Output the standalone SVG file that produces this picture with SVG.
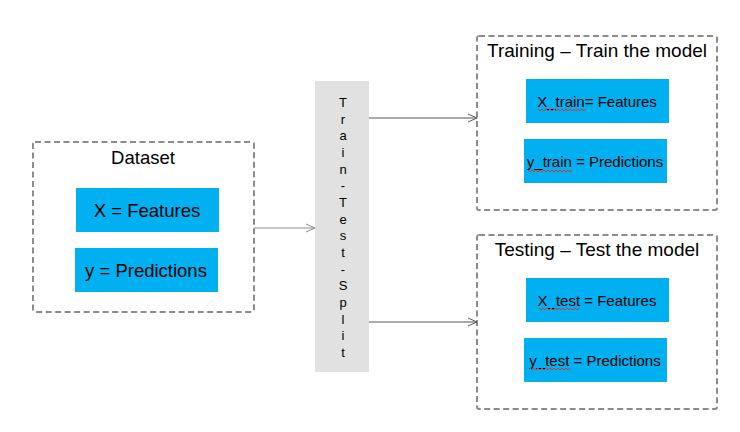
<svg xmlns="http://www.w3.org/2000/svg" width="740" height="432" viewBox="0 0 740 432">
<defs>
<style>
.group{fill:#fff;stroke:#8c8c8c;stroke-width:2;stroke-dasharray:6 3.5}
.blue{fill:#00b0f0}
.t{font-family:"Liberation Sans",Arial,sans-serif;fill:#000;text-anchor:middle}
.title{font-size:19px}
.big{font-size:18.5px}
.small{font-size:15px}
.split{font-size:13px}
.conn{fill:none;stroke:#595959;stroke-width:1}
.sq{fill:none;stroke:#e03030;stroke-width:1}
</style>
<marker id="arr" markerWidth="12" markerHeight="12" refX="10" refY="5" orient="auto" markerUnits="userSpaceOnUse">
<path d="M1,1 L10,5 L1,9" fill="none" stroke="#595959" stroke-width="1"/>
</marker>
<marker id="arrg" markerWidth="12" markerHeight="12" refX="10" refY="5" orient="auto" markerUnits="userSpaceOnUse">
<path d="M1,1 L10,5 L1,9" fill="none" stroke="#8c8c8c" stroke-width="1"/>
</marker>
</defs>
<rect width="740" height="432" fill="#fff"/>

<g id="dataset">
<rect class="group" x="33" y="142" width="221" height="170" rx="2"/>
<text class="t big" x="143" y="164">Dataset</text>
<rect class="blue" x="76" y="188" width="143" height="44"/>
<text class="t big" x="147" y="217">X = Features</text>
<rect class="blue" x="75" y="248" width="143" height="44"/>
<text class="t big" x="146" y="277">y = Predictions</text>
</g>

<g id="split">
<rect x="315" y="81" width="54" height="291" fill="#e1e1e1"/>
<g class="t split">
<text x="343" y="107">T</text>
<text x="343" y="123.7">r</text>
<text x="343" y="140.3">a</text>
<text x="343" y="157">i</text>
<text x="343" y="173.7">n</text>
<text x="343" y="190.3">-</text>
<text x="343" y="207">T</text>
<text x="343" y="223.7">e</text>
<text x="343" y="240.3">s</text>
<text x="343" y="257">t</text>
<text x="343" y="273.7">-</text>
<text x="343" y="290.3">S</text>
<text x="343" y="307">p</text>
<text x="343" y="323.7">l</text>
<text x="343" y="340.3">i</text>
<text x="343" y="357">t</text>
</g>
</g>

<g id="training">
<rect class="group" x="477" y="36" width="240" height="174" rx="2"/>
<text class="t title" x="597" y="57">Training – Train the model</text>
<rect class="blue" x="526" y="79" width="143" height="44"/>
<text class="t small" x="597" y="107">X_train= Features</text>
<path class="sq" d="M538,109 l2,2 l2,-2 l2,2 l2,-2 l2,2 l2,-2 l2,2 l2,-2 l2,2 l2,-2 l2,2 l2,-2 l2,2 l2,-2 l2,2 l2,-2 l2,2 l2,-2 l2,2 l2,-2 l2,2 l2,-2 l2,2 l2,-2"/>
<rect class="blue" x="524" y="139" width="143" height="44"/>
<text class="t small" x="595" y="167">y_train = Predictions</text>
<path class="sq" d="M528,170 l2,2 l2,-2 l2,2 l2,-2 l2,2 l2,-2 l2,2 l2,-2 l2,2 l2,-2 l2,2 l2,-2 l2,2 l2,-2 l2,2 l2,-2 l2,2 l2,-2 l2,2 l2,-2 l2,2 l2,-2"/>
</g>

<g id="testing">
<rect class="group" x="477" y="235" width="240" height="174" rx="2"/>
<text class="t title" x="597" y="256">Testing – Test the model</text>
<rect class="blue" x="526" y="278" width="143" height="44"/>
<text class="t small" x="597" y="306">X_test = Features</text>
<path class="sq" d="M539,308 l2,2 l2,-2 l2,2 l2,-2 l2,2 l2,-2 l2,2 l2,-2 l2,2 l2,-2 l2,2 l2,-2 l2,2 l2,-2 l2,2 l2,-2 l2,2 l2,-2 l2,2 l2,-2"/>
<rect class="blue" x="524" y="338" width="143" height="44"/>
<text class="t small" x="595" y="366">y_test = Predictions</text>
<path class="sq" d="M530,368 l2,2 l2,-2 l2,2 l2,-2 l2,2 l2,-2 l2,2 l2,-2 l2,2 l2,-2 l2,2 l2,-2 l2,2 l2,-2 l2,2 l2,-2 l2,2 l2,-2 l2,2 l2,-2"/>
</g>

<g id="connectors">
<path d="M254,228 H315" fill="none" stroke="#8c8c8c" stroke-width="1" marker-end="url(#arrg)"/>
<path class="conn" d="M369,118 H477" marker-end="url(#arr)"/>
<path class="conn" d="M369,322 H477" marker-end="url(#arr)"/>
</g>
</svg>
